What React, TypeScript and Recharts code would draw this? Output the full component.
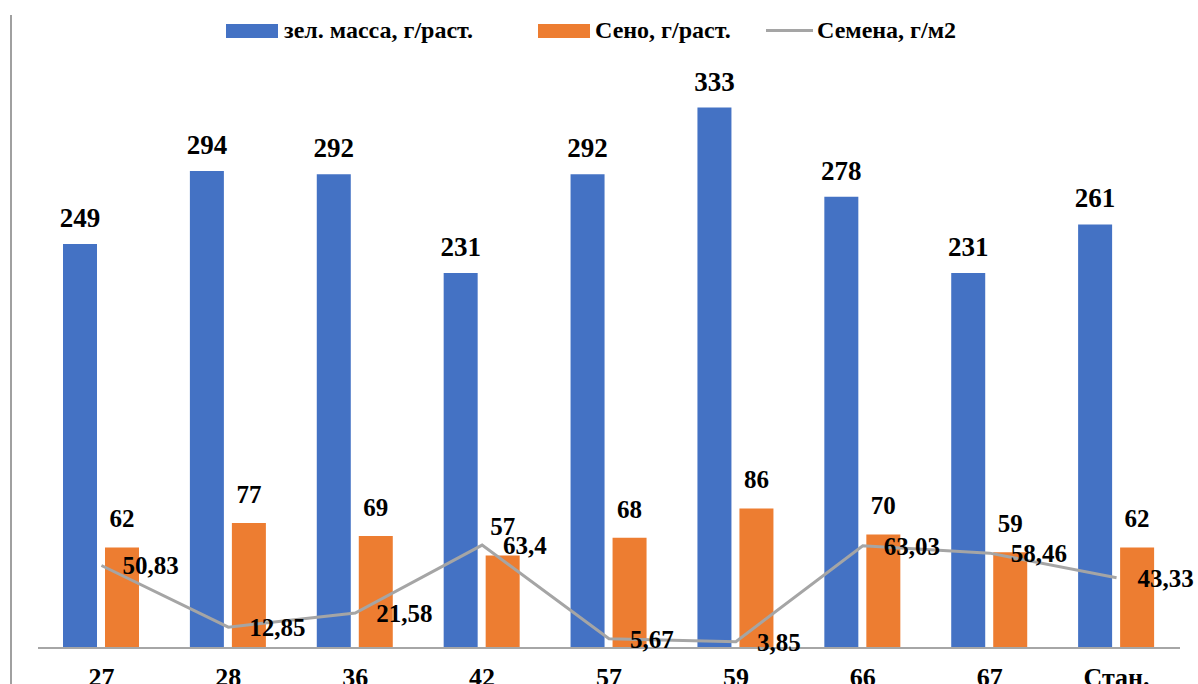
import { ComposedChart, Bar, Line, XAxis, YAxis, LabelList } from "recharts"

const categories = ["27", "28", "36", "42", "57", "59", "66", "67", "Стан."]
const greenMass = [249, 294, 292, 231, 292, 333, 278, 231, 261]
const hay = [62, 77, 69, 57, 68, 86, 70, 59, 62]
const seeds = [50.83, 12.85, 21.58, 63.4, 5.67, 3.85, 63.03, 58.46, 43.33]

const data = categories.map((name, i) => ({
  name,
  green: greenMass[i],
  hay: hay[i],
  seeds: seeds[i],
}))

const FONT = "'Liberation Serif', 'DejaVu Serif', 'Times New Roman', serif"
const BLUE = "#4472C4"
const ORANGE = "#ED7D31"
const GRAY = "#A5A5A5"

const commaFmt = (v: any) => String(v).replace(".", ",")

// legend drawn outside the chart so it doesn't eat the plot height
function ChartLegend() {
  const text = { position: "absolute" as const, top: 16, fontFamily: FONT, fontWeight: 700, fontSize: 24, lineHeight: "28px", color: "#000", whiteSpace: "nowrap" as const }
  return (
    <>
      <div style={{ position: "absolute", left: 226, top: 24, width: 52, height: 14, background: BLUE }} />
      <div style={{ ...text, left: 284 }}>зел. масса, г/раст.</div>
      <div style={{ position: "absolute", left: 538, top: 24, width: 52, height: 14, background: ORANGE }} />
      <div style={{ ...text, left: 595 }}>Сено, г/раст.</div>
      <div style={{ position: "absolute", left: 766, top: 29, width: 47, height: 3, background: GRAY }} />
      <div style={{ ...text, left: 817 }}>Семена, г/м2</div>
    </>
  )
}

export default function App() {
  return (
    <div style={{ position: "absolute", left: 0, top: 0, width: 1198, height: 684, overflow: "hidden", background: "#fff" }}>
      <div style={{ position: "absolute", left: 10, top: 15, width: 2, height: 700, background: "#A0A0A0" }} />
      <ChartLegend />
      <ComposedChart
        width={1198}
        height={730}
        data={data}
        margin={{ top: 80, right: 18, left: 38, bottom: 42 }}
        barGap={8}
        barCategoryGap="20%"
        style={{ position: "absolute", left: 0, top: 0 }}
      >
        <XAxis
          dataKey="name"
          height={40}
          axisLine={{ stroke: "#A6A6A6", strokeWidth: 2 }}
          tickLine={false}
          tickMargin={14}
          interval={0}
          tick={{ fill: "#000", fontFamily: FONT, fontWeight: 700, fontSize: 26 }}
        />
        <YAxis hide domain={[0, 350]} />
        <Bar dataKey="green" fill={BLUE} barSize={34} isAnimationActive={false}>
          <LabelList
            dataKey="green"
            position="top"
            offset={17}
            style={{ fill: "#000", fontFamily: FONT, fontWeight: 700, fontSize: 27 }}
          />
        </Bar>
        <Bar dataKey="hay" fill={ORANGE} barSize={34} isAnimationActive={false}>
          <LabelList
            dataKey="hay"
            position="top"
            offset={20}
            style={{ fill: "#000", fontFamily: FONT, fontWeight: 700, fontSize: 25 }}
          />
        </Bar>
        <Line
          dataKey="seeds"
          type="linear"
          stroke={GRAY}
          strokeWidth={3}
          dot={false}
          activeDot={false}
          isAnimationActive={false}
        >
          <LabelList
            dataKey="seeds"
            position="right"
            offset={21}
            formatter={commaFmt}
            style={{ fill: "#000", fontFamily: FONT, fontWeight: 700, fontSize: 25 }}
          />
        </Line>
      </ComposedChart>
    </div>
  )
}
